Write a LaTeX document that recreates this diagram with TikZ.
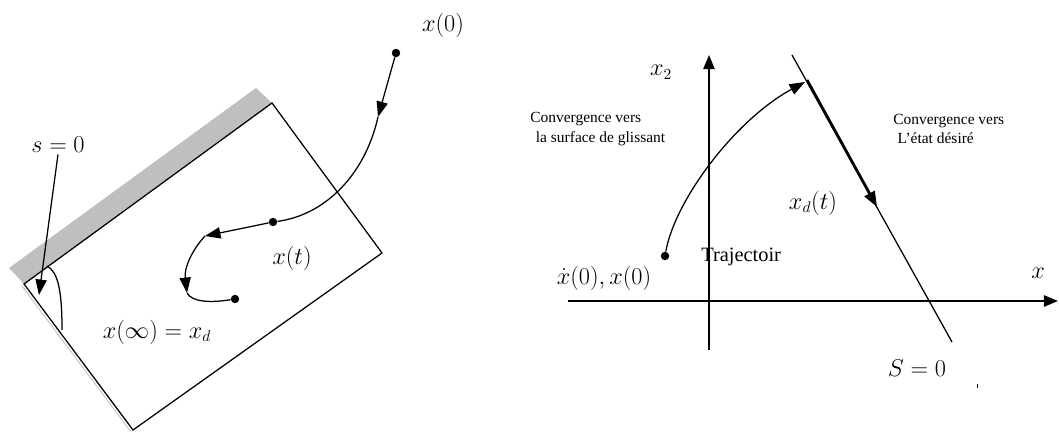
\documentclass[tikz,border=0pt]{standalone}
\usepackage{fontspec}
\setmainfont{Liberation Serif}
\usetikzlibrary{arrows.meta}

\begin{document}
\begin{tikzpicture}[
        x=0.025cm, y=-0.025cm,
        traj/.style={line width=0.9pt},
        msg/.style={traj, -{Triangle[length=11pt, width=8pt]}},
        axis/.style={line width=1.2pt, -{Triangle[length=10pt, width=8pt]}},
        dot/.style={circle, fill, inner sep=0pt, minimum size=6pt},
        lbl/.style={font=\fontsize{16}{18}\selectfont, inner sep=1pt},
        txt/.style={font=\fontsize{11}{14}\selectfont, align=left, inner sep=0pt, anchor=west}
    ]
        \useasboundingbox (0,0) rectangle (1059,432);

        % left: sliding region
        \coordinate (rl) at (24,284);
        \coordinate (rt) at (272,103);
        \coordinate (rr) at (382,253);
        \coordinate (rb) at (133,430);
        \fill[gray!50] (9,268) -- (256,88) -- (rt) -- (rl) -- cycle;
        \draw[gray!40, line width=0.8pt] (22,286) -- (131,432);
        \draw[traj] (rl) -- (rt) -- (rr) -- (rb) -- cycle;

        \node[lbl] (s0) at (58,145) {$s=0$};
        \coordinate (s0tip) at (39,295);
        \draw[msg] (s0.south) -- (s0tip);
        \draw[traj] (47,266) .. controls (58,272) and (62,290) .. (62,330);

        \node[dot] (x0) at (396,53) {};
        \node[lbl] (x0l) at (443,25) {$x(0)$};
        \coordinate (a1) at (378,117);
        \node[dot] (xt) at (273,222) {};
        \coordinate (a2) at (205,236);
        \coordinate (a3) at (187,293);
        \node[dot] (xinf) at (235,299) {};
        \draw[msg] (x0) -- (a1);
        \draw[traj] (a1) .. controls (365,175) and (325,215) .. (xt);
        \draw[msg] (xt) -- (a2);
        \draw[msg] (a2) .. controls (192,250) and (184,268) .. (a3);
        \draw[traj] (a3) .. controls (192,302) and (210,303) .. (xinf);
        \node[lbl] (xtl) at (292,258) {$x(t)$};
        \node[lbl] (xinfl) at (157,332) {$x(\infty)=x_d$};

        % right: phase plane
        \coordinate (xl) at (568,301);
        \coordinate (xr) at (1058,301);
        \coordinate (yb) at (709,350);
        \coordinate (yt) at (709,55);
        \draw[axis] (xl) -- (xr);
        \draw[axis] (yb) -- (yt);
        \node[lbl] (x2l) at (661,72) {$x_2$};
        \node[font=\fontsize{19}{21}\selectfont, inner sep=1pt] (xlab) at (1038,273) {$x$};

        \coordinate (st) at (792,55);
        \coordinate (sb) at (952,342);
        \draw[traj] (st) -- (sb);
        \coordinate (slide0) at (807,80);
        \coordinate (slide1) at (877,207);
        \draw[line width=2pt, -{Triangle[length=11pt, width=8pt]}] (slide0) -- (slide1);
        \node[font=\fontsize{17}{19}\selectfont, inner sep=1pt] (S0) at (917,368) {$S=0$};
        \node[lbl] (xdl) at (813,203) {$x_d(t)$};

        \node[dot] (p0) at (665,256) {};
        \coordinate (hit) at (805,82);
        \draw[msg] (p0) .. controls (675,200) and (735,120) .. (hit);
        \node[lbl] (p0l) at (604,278) {$\dot x(0),x(0)$};
        \node[font=\fontsize{14.5}{16}\selectfont, inner sep=0pt, anchor=west] (trajl) at (701,257) {Trajectoir};

        \node[txt] (convL) at (530,129) {Convergence vers\\\hspace*{4pt}la surface de glissant};
        \node[txt] (convR) at (893,129) {Convergence vers\\\hspace*{3pt}L’état désiré};

        \draw[line width=0.5pt] (977,384) -- (977,388);
    \end{tikzpicture}
\end{document}
